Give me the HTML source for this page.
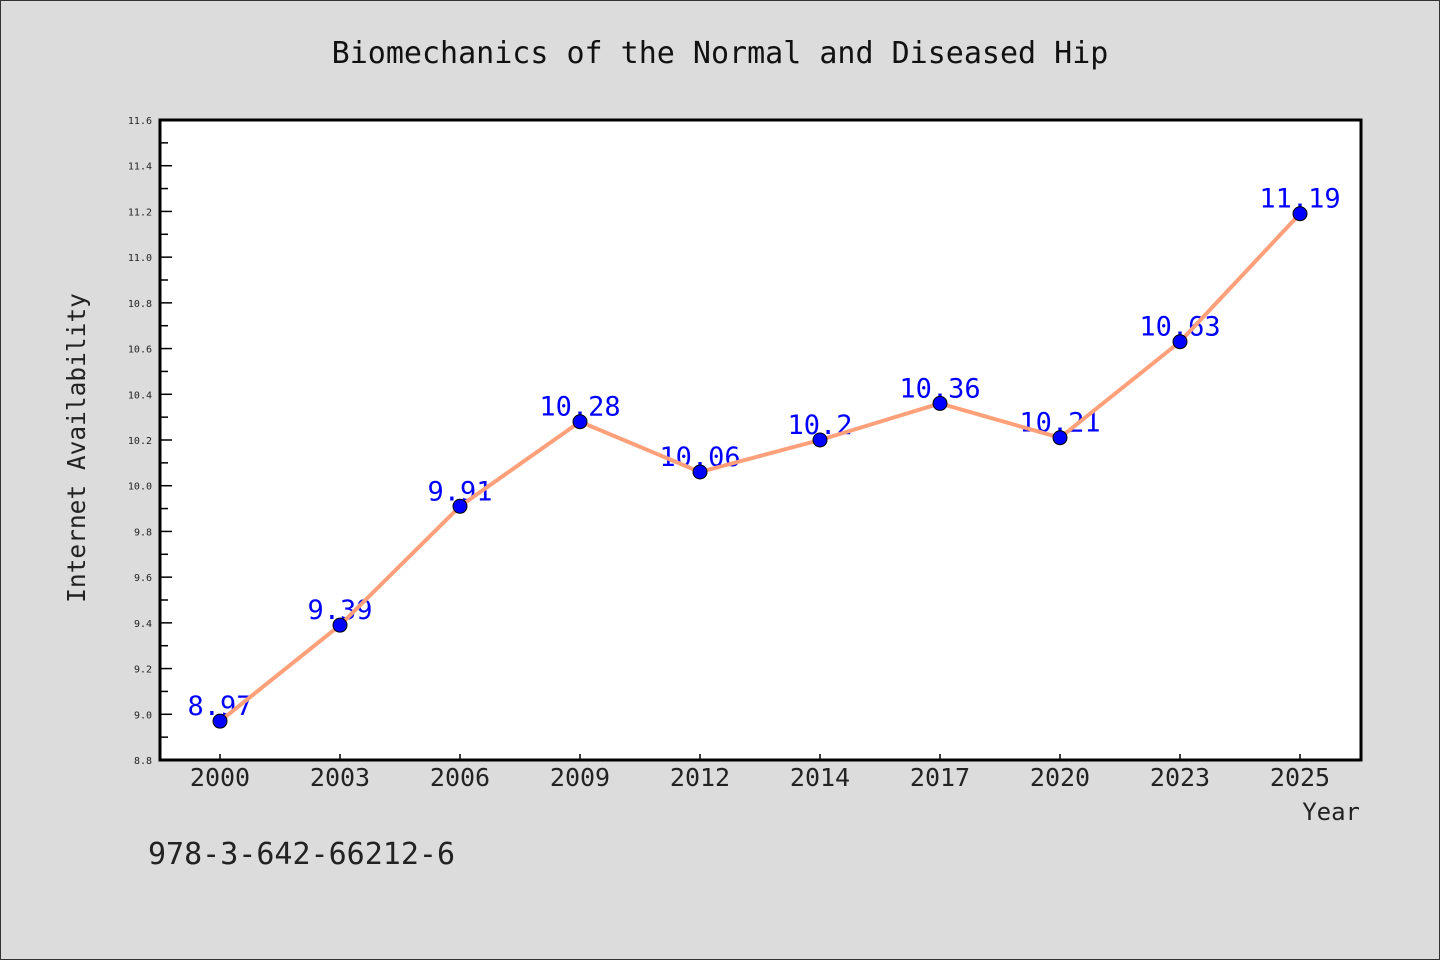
<!DOCTYPE html>
<html><head><meta charset="utf-8"><style>
body{margin:0;background:#dcdcdc}
svg{display:block}
text{font-family:"WenQuanYi Zen Hei Mono","DejaVu Sans Mono","Liberation Mono",monospace}
</style></head><body>
<svg id="chart" width="1440" height="960">
<rect x="0.5" y="0.5" width="1439" height="959" fill="#dcdcdc" stroke="#333"/>
<text x="720" y="63" text-anchor="middle" font-size="30" fill="#111">Biomechanics of the Normal and Diseased Hip</text>
<rect x="160" y="120" width="1201" height="640" fill="#fff"/>
<g id="yaxis"></g>
<g id="xaxis"></g>
<g id="marks"></g>
<rect x="160" y="120" width="1201" height="640" fill="none" stroke="#000" stroke-width="3"/>
<text transform="translate(85,448) rotate(-90)" text-anchor="middle" font-size="24.5" fill="#222">Internet Availability</text>
<text x="1360" y="820" text-anchor="end" font-size="24" fill="#222">Year</text>
<text x="148" y="864" font-size="30" fill="#222">978-3-642-66212-6</text>
</svg>
<script>
const categories=["2000","2003","2006","2009","2012","2014","2017","2020","2023","2025"];
const values=[8.97,9.39,9.91,10.28,10.06,10.2,10.36,10.21,10.63,11.19];
const valueLabels=["8.97","9.39","9.91","10.28","10.06","10.2","10.36","10.21","10.63","11.19"];
const yTicks=[8.8,9.0,9.2,9.4,9.6,9.8,10.0,10.2,10.4,10.6,10.8,11.0,11.2,11.4,11.6];
const yMin=8.8,yMax=11.6,plotTop=120,plotBottom=760,plotLeft=160,plotRight=1360;
const NS="http://www.w3.org/2000/svg";
function yScale(v){return plotBottom-(v-yMin)/(yMax-yMin)*(plotBottom-plotTop);}
function xScale(i){const bw=(plotRight-plotLeft)/categories.length;return plotLeft+bw*(i+0.5);}
function mk(t,a,p){const e=document.createElementNS(NS,t);for(const k in a)e.setAttribute(k,a[k]);if(p)p.appendChild(e);return e;}
const ya=document.getElementById('yaxis'),xa=document.getElementById('xaxis'),m=document.getElementById('marks');
yTicks.forEach((v,i)=>{
 const t=mk('line',{x1:plotLeft,x2:plotLeft+12,y1:yScale(v),y2:yScale(v),stroke:'#000','stroke-width':1.5},ya);
 
 
 const l=mk('text',{x:plotLeft-8,y:yScale(v)+4,'text-anchor':'end','font-size':10,fill:'#222'},ya);
 l.textContent=v.toFixed(1);
 
 
 if(i<yTicks.length-1){
  const mv=v+0.1;
  const mt=mk('line',{x1:plotLeft,x2:plotLeft+8,y1:yScale(mv),y2:yScale(mv),stroke:'#000','stroke-width':1.5},ya);
  
  
 }
});
categories.forEach((c,i)=>{
 const t=mk('line',{x1:xScale(i),x2:xScale(i),y1:plotBottom,y2:plotBottom-6,stroke:'#000','stroke-width':1.5},xa);
 
 
 const l=mk('text',{x:xScale(i),y:plotBottom+26,'text-anchor':'middle','font-size':25,fill:'#222'},xa);
 l.textContent=c;
 
 
});
values.forEach((v,i)=>{
 const l=mk('text',{x:xScale(i),y:yScale(v)-6,'text-anchor':'middle','font-size':27,fill:'#0000ff'},m);
 l.textContent=valueLabels[i];
 
 
});
const line=mk('polyline',{points:values.map((v,i)=>xScale(i)+','+yScale(v)).join(' '),fill:'none',stroke:'#ffa07a','stroke-width':4,'stroke-linejoin':'round'},m);


values.forEach((v,i)=>{
 const c=mk('circle',{cx:xScale(i),cy:yScale(v),r:7,fill:'#0000ff',stroke:'#000','stroke-width':1},m);
 
 
});
</script>
</body></html>
